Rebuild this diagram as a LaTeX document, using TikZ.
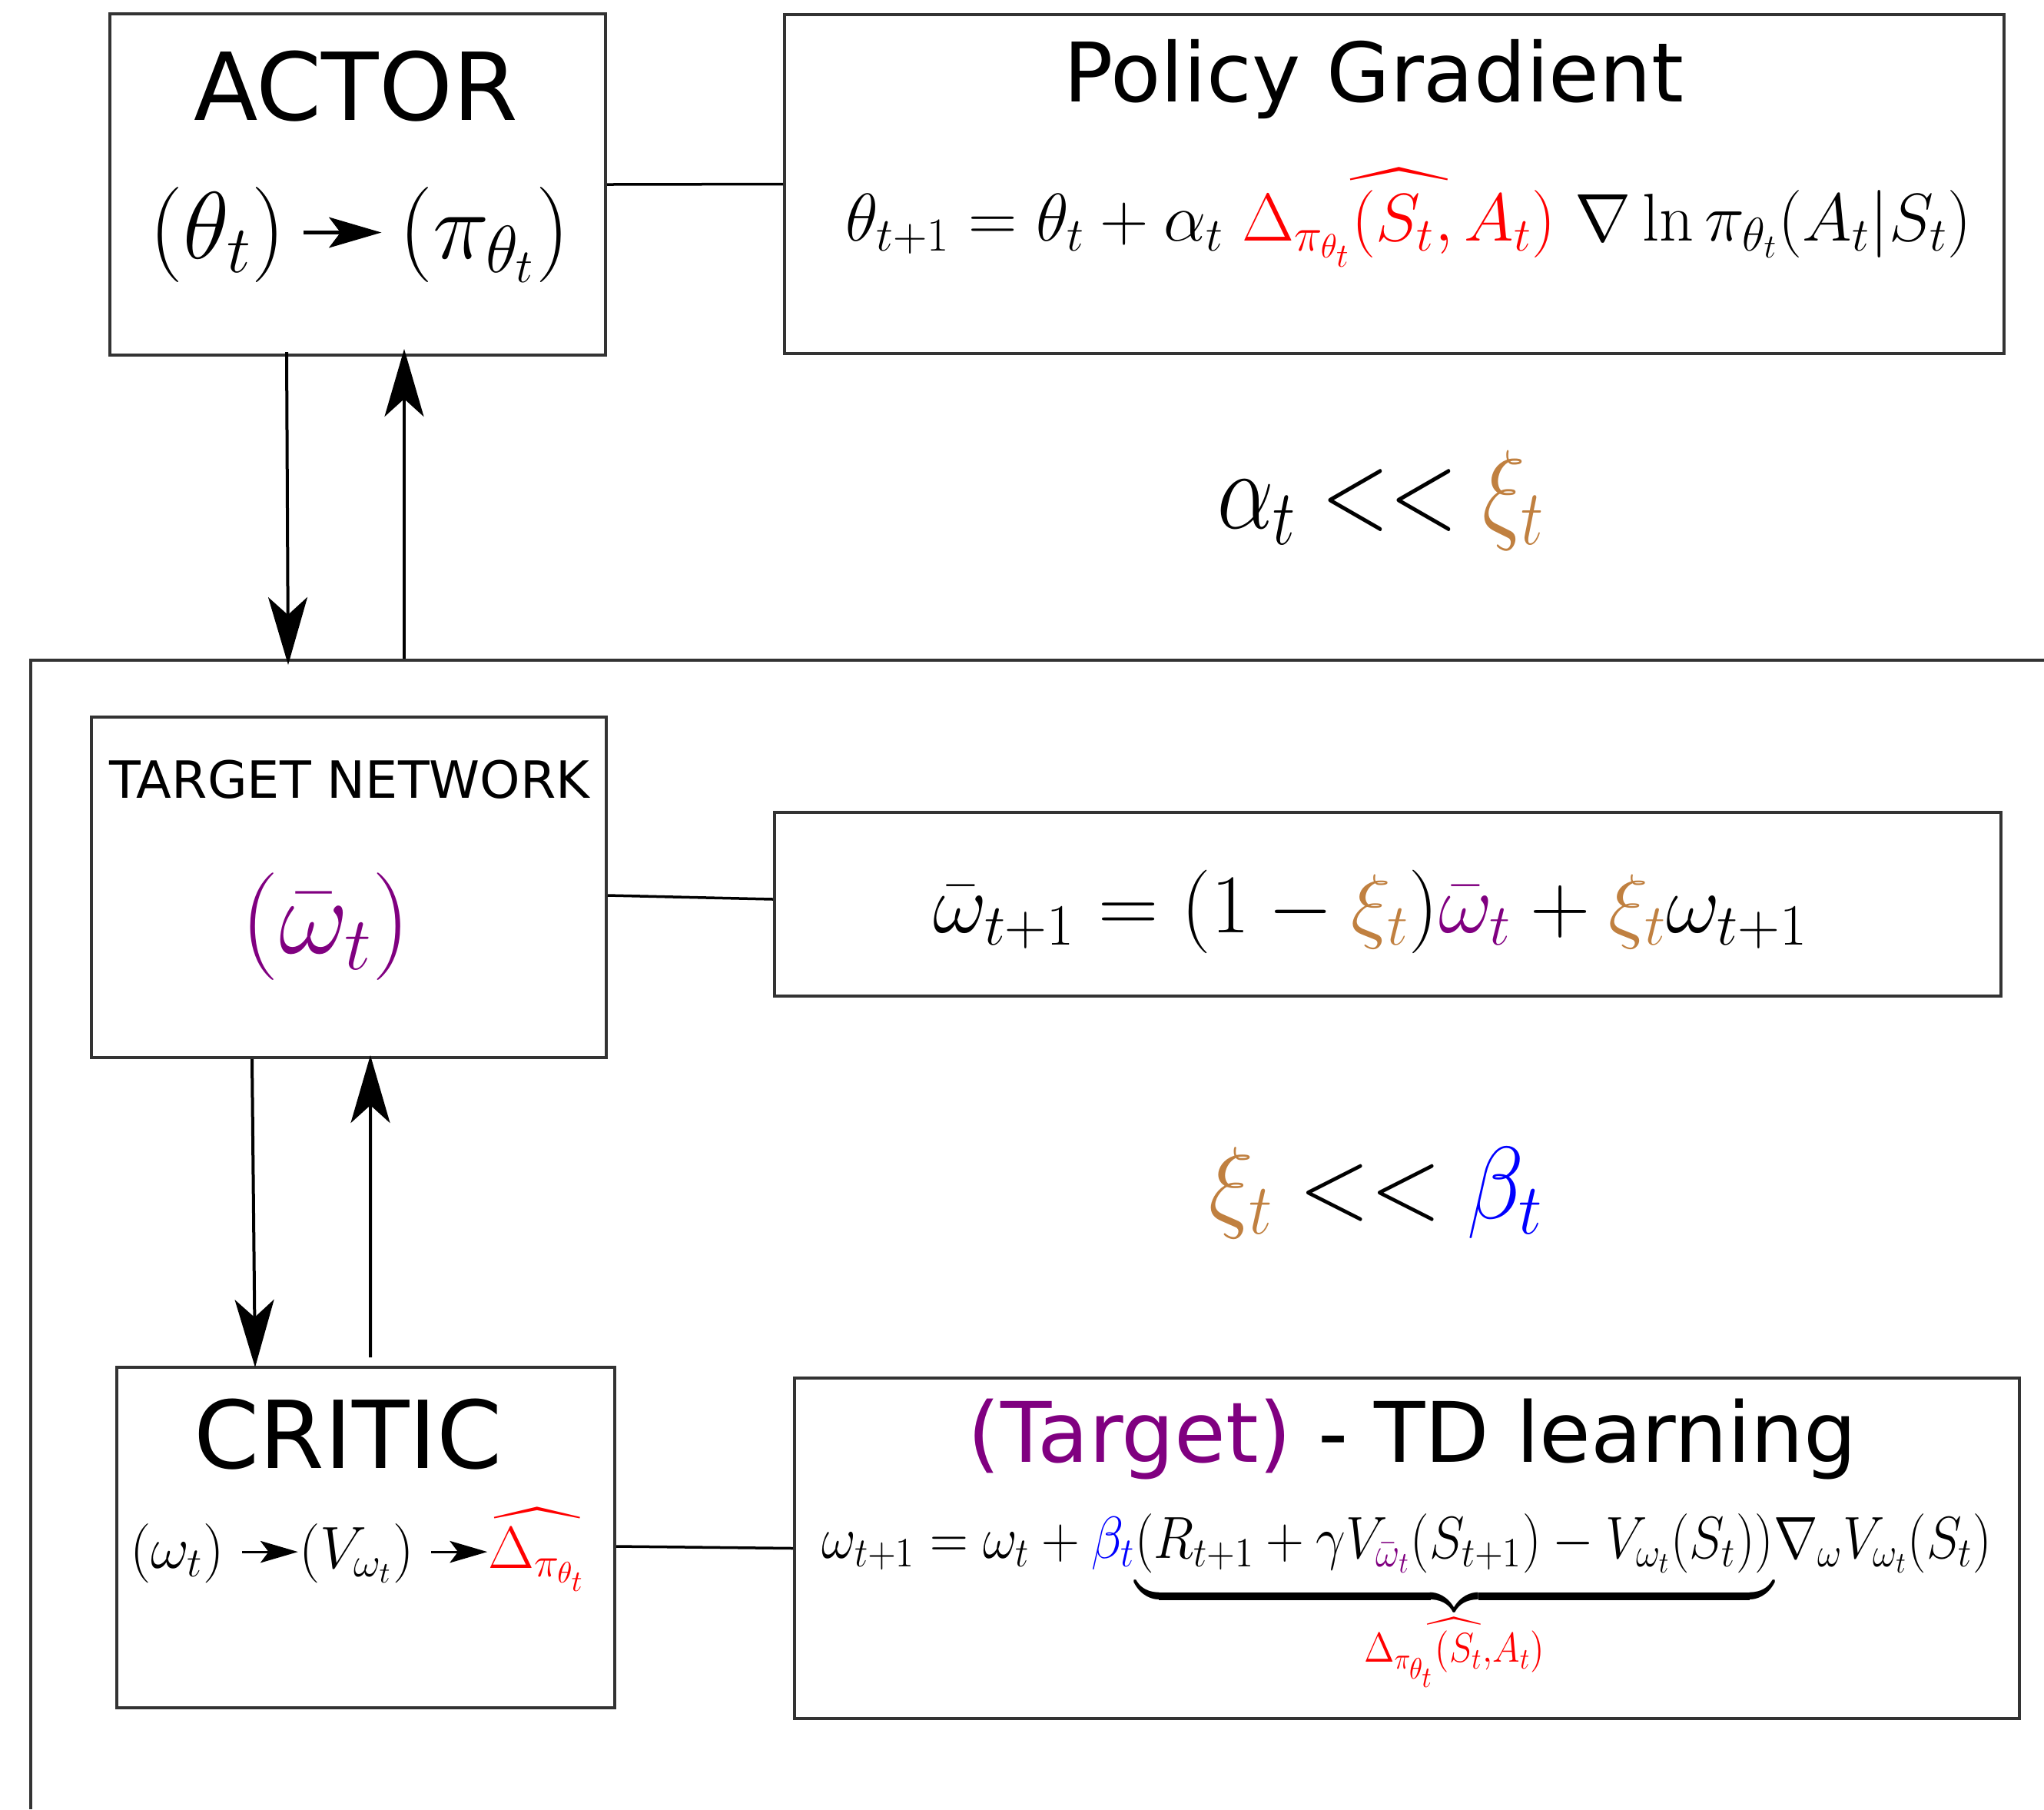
\RequirePackage{fix-cm}
\documentclass[tikz,border=0pt]{standalone}
\usepackage[no-math]{fontspec}
\setmainfont{DejaVu Sans}
\usepackage{xcolor}
\usetikzlibrary{arrows.meta}
\DeclareFontShape{OMX}{cmex}{m}{n}{<->cmex10}{}
\definecolor{xicol}{RGB}{192,128,64}
\definecolor{tgtpurple}{RGB}{128,0,128}
\newcommand{\fsz}[1]{\fontsize{#1}{#1}\selectfont}
\newcommand{\tarr}[1][1]{\tikz[baseline=-0.27em]\draw[draw=black,line width=0.035em,-{Stealth[length=0.55em,width=0.32em,inset=0.12em,scale=#1]}] (0,0) -- ({#1*0.82em},0);}

\begin{document}
\begin{tikzpicture}[>={Stealth[length=0.88cm,width=0.51cm,inset=0.23cm]}]
				\tikzstyle{box}=[draw=black!80,line width=0.04cm,inner sep=0pt]
				\tikzstyle{flow}=[->,draw=black,line width=0.04cm]
				\tikzstyle{link}=[draw=black,line width=0.035cm]
				\tikzstyle{label}=[inner sep=0pt,anchor=base]
				
				\useasboundingbox (0,0) rectangle (26.6,-23.54);
				
				% Draw the boxes
				\node[box,minimum width=6.45cm,minimum height=4.44cm] (actor) at (4.655,-2.40) {};
				\node[box,minimum width=15.87cm,minimum height=4.41cm] (pg) at (18.145,-2.395) {};
				\node[box,minimum width=6.70cm,minimum height=4.43cm] (target) at (4.54,-11.545) {};
				\node[box,minimum width=15.96cm,minimum height=2.39cm] (tupdate) at (18.06,-11.765) {};
				\node[box,minimum width=6.48cm,minimum height=4.43cm] (critic) at (4.76,-20.005) {};
				\node[box,minimum width=15.94cm,minimum height=4.43cm] (td) at (18.31,-20.145) {};
				
				% Draw the critic frame
				\draw[box] (26.6,-8.59) -- (0.40,-8.59) -- (0.40,-23.54);
				\coordinate (frame-in) at (3.75,-8.65);
				\coordinate (frame-out) at (5.26,-8.57);
				
				% Annotate the boxes
				\node[label,font=\fsz{34.7pt}] (actor-t) at (4.63,-1.56) {ACTOR};
				\node[label,font=\fsz{35.3pt}] (actor-f) at (4.68,-3.36) {$(\theta_t)\,\tarr\,(\pi_{\theta_t})$};
				\node[label,font=\fsz{30.4pt}] (pg-t) at (17.88,-1.32) {Policy Gradient};
				\node[label,font=\fsz{25pt}] (pg-f) at (18.33,-3.13)
				{$\theta_{t+1}=\theta_t+\alpha_t\;{\color{red}\widehat{\Delta_{\pi_{\theta_t}}(S_t,A_t)}}\;\nabla\ln\pi_{\theta_t}(A_t|S_t)$};
				\node[label,font=\fsz{41.5pt}] (rate1) at (17.97,-6.87) {\scalebox{0.8}[1]{$\alpha_t<<{\color{xicol}\xi_t}$}};
				
				\node[label,font=\fsz{19pt}] (target-t) at (4.55,-10.38) {TARGET NETWORK};
				\node[label,font=\fsz{39.8pt}] (target-f) at (4.24,-12.40) {$\color{tgtpurple}(\bar{\omega}_t)$};
				\node[label,font=\fsz{30.9pt}] (tupdate-f) at (17.84,-12.13)
				{$\bar{\omega}_{t+1}=(1-{\color{xicol}\xi_t}){\color{tgtpurple}\bar{\omega}_t}+{\color{xicol}\xi_t}\omega_{t+1}$};
				\node[label,font=\fsz{38pt}] (rate2) at (17.91,-15.85) {\scalebox{0.91}[1]{${\color{xicol}\xi_t}<<{\color{blue}\beta_t}$}};
				
				\node[label,font=\fsz{34.7pt}] (critic-t) at (4.53,-19.10) {CRITIC};
				\node[label,font=\fsz{22pt}] (critic-f) at (4.66,-20.40)
				{$(\omega_t)\;\tarr[1.15]\bigl(V_{\omega_t}\bigr)\;\tarr[1.15]{\color{red}\widehat{\Delta_{\pi_{\theta_t}}}}$};
				\node[label,font=\fsz{30.9pt}] (td-t) at (18.38,-19.02) {{\color{tgtpurple}(Target)} - TD learning};
				\node[label,font=\fsz{22pt}] (td-f) at (18.31,-20.27)
				{\scalebox{0.893}[1]{$\omega_{t+1}=\omega_t+{\color{blue}\beta_t}{\underbrace{(R_{t+1}+\gamma V_{\color{tgtpurple}\bar{\omega}_t}(S_{t+1})-V_{\omega_t}(S_t))\rule[-0.45em]{0pt}{0pt}}_{\color{red}\widehat{\Delta_{\pi_{\theta_t}}(S_t,A_t)}}}\nabla_\omega V_{\omega_t}(S_t)$}};
				
				% Connect the boxes
				\draw[link] (actor.east) -- (pg.west);
				\draw[link] ([yshift=-0.105cm]target.east) -- ([yshift=0.065cm]tupdate.west);
				\draw[link] ([yshift=-0.115cm]critic.east) -- (td.west);
				
				\draw[flow] ([xshift=-0.925cm,yshift=0.06cm]actor.south) -- (frame-in);
				\draw[flow] (frame-out) -- ([xshift=0.605cm,yshift=0.10cm]actor.south);
				\draw[flow] ([xshift=-1.26cm]target.south) -- ([xshift=-1.44cm,yshift=-0.02cm]critic.north);
				\draw[flow] ([xshift=0.06cm,yshift=0.11cm]critic.north) -- ([xshift=0.28cm,yshift=0.05cm]target.south);
				
			\end{tikzpicture}
\end{document}
